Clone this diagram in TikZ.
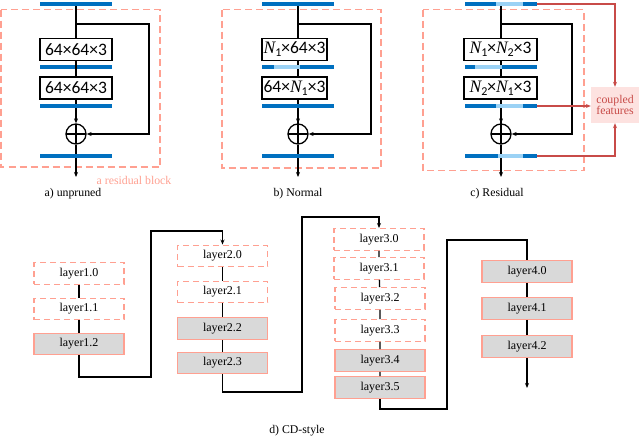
\documentclass[tikz,border=0pt]{standalone}
\usepackage{fontspec}
\setmainfont{Liberation Serif}
\newfontfamily\calfont{Carlito}
\usetikzlibrary{arrows.meta}
\definecolor{dblue}{RGB}{0,112,192}
\definecolor{lblue}{RGB}{155,210,245}
\definecolor{pinkd}{RGB}{255,160,145}
\definecolor{redc}{RGB}{200,75,72}
\definecolor{pinkfill}{RGB}{253,226,224}
\definecolor{grayfill}{RGB}{217,217,217}
\newcommand\Nn[1]{{\rmfamily\itshape N}\raisebox{-0.35ex}{\fontsize{12}{12}\selectfont #1}}
\tikzset{
  bar/.style={fill=dblue, draw=none, minimum height=4, inner sep=0, outer sep=0},
  lseg/.style={fill=lblue, draw=none},
  conv/.style={draw=black, line width=1.6, fill=white, minimum height=22, inner sep=0, outer sep=0, font=\calfont\fontsize{17.5}{17.5}\selectfont},
  plus/.style={circle, draw=black, line width=1.3, minimum size=20, inner sep=0,
    path picture={\draw[line width=1.3] (path picture bounding box.north) -- (path picture bounding box.south) (path picture bounding box.west) -- (path picture bounding box.east);}},
  wire/.style={draw=black, line width=1.3},
  arr/.style={wire, -{Stealth[length=5,width=4]}},
  rarr/.style={draw=redc, line width=1.1, -{Stealth[length=5,width=4]}},
  dbox/.style={draw=pinkd, dashed, dash pattern=on 7 off 4, line width=1.4},
  captxt/.style={font=\fontsize{11.8}{12}\selectfont},
  lay/.style={draw=pinkd, line width=1.4, minimum width=90, minimum height=21.5, inner sep=0, font=\fontsize{12}{12}\selectfont},
  layd/.style={lay, dashed, dash pattern=on 6 off 4},
  layf/.style={lay, fill=grayfill},
}
\begin{document}
\begin{tikzpicture}[x=1pt,y=-1pt]
\useasboundingbox (0,0) rectangle (640,437);
% ---------------- a) unpruned ----------------
\draw[dbox] (1,9.5) rectangle (160,167);
\node[bar, minimum width=72] (a0) at (76,4) {};
\node[conv, minimum width=72] (a1) at (76,49.5) {64×64×3};
\node[bar, minimum width=72] (a2) at (76,67) {};
\node[conv, minimum width=72] (a3) at (76,88) {64×64×3};
\node[bar, minimum width=72] (a4) at (76,106) {};
\node[plus] (ap) at (76,134) {};
\node[bar, minimum width=72] (a5) at (76,156) {};
\coordinate (aend) at (76,177);
\coordinate (as) at (76,24);
\draw[wire] (a0) -- (a1) (a1) -- (a3) (a3) -- (a4);
\draw[arr] (a4) -- (ap);
\draw[wire] (ap) -- (a5);
\draw[arr] (a5) -- (aend);
\draw[arr] (as) -| (149,134) -- (ap.east);
\node[captxt, text=pinkd] (ares) at (134,180.5) {a residual block};
\node[captxt] (acap) at (73,193.5) {a) unpruned};
% ---------------- b) Normal ----------------
\draw[dbox] (222,9.5) rectangle (381,168);
\draw[wire] (298,4) -- (298,124);
\node[bar, minimum width=72] (b0) at (298,4) {};
\node[conv, minimum width=65] (b1) at (294.5,49.5) {\Nn{1}×64×3};
\node[bar, minimum width=72] (b2) at (298,67) {};
\fill[lseg] (274,65) rectangle (300,69);
\node[conv, minimum width=65] (b3) at (294.5,88) {64×\Nn{1}×3};
\node[bar, minimum width=72] (b4) at (298,106) {};
\node[plus] (bp) at (298,134) {};
\node[bar, minimum width=72] (b5) at (298,156) {};
\coordinate (bend) at (298,177);
\coordinate (bs) at (298,24);
\draw[arr] (b4) -- (bp);
\draw[wire] (bp) -- (b5);
\draw[arr] (b5) -- (bend);
\draw[arr] (bs) -| (371,134) -- (bp.east);
\node[captxt] (bcap) at (298,193.5) {b) Normal};
% ---------------- c) Residual ----------------
\draw[dbox] (423,9.5) rectangle (584,170.5);
\draw[wire] (501,4) -- (501,124);
\node[bar, minimum width=72] (c0) at (501,4) {};
\fill[lseg] (496,2) rectangle (523,6);
\node[conv, minimum width=73] (c1) at (500.5,49.5) {\Nn{1}×\Nn{2}×3};
\node[bar, minimum width=72] (c2) at (501,67) {};
\fill[lseg] (475,65) rectangle (502,69);
\node[conv, minimum width=73] (c3) at (500.5,88) {\Nn{2}×\Nn{1}×3};
\node[bar, minimum width=72] (c4) at (501,106) {};
\fill[lseg] (496,104) rectangle (523,108);
\node[plus] (cp) at (501,134) {};
\node[bar, minimum width=72] (c5) at (501,156) {};
\fill[lseg] (498,154) rectangle (523,158);
\coordinate (cend) at (501,177);
\coordinate (cs) at (501,24);
\draw[arr] (c4) -- (cp);
\draw[wire] (cp) -- (c5);
\draw[arr] (c5) -- (cend);
\draw[arr] (cs) -| (572,134) -- (cp.east);
\node[captxt, fill=pinkfill, text=redc, minimum width=48, minimum height=36, inner sep=0, align=center] (cf) at (615,105) {coupled\\[-1pt]features};
\draw[rarr] (c0.east) -| (cf.north);
\draw[rarr] (c4.east) -- (cf.west |- c4.east);
\draw[rarr] (c5.east) -| (cf.south);
\node[captxt] (ccap) at (497,193.5) {c) Residual};
% ---------------- d) CD-style ----------------
\node[layd] (l10) at (79,273.5) {layer1.0};
\node[layd] (l11) at (79,309) {layer1.1};
\node[layf] (l12) at (79,344) {layer1.2};
\node[layd] (l20) at (222.5,256) {layer2.0};
\node[layd] (l21) at (222.5,292) {layer2.1};
\node[layf] (l22) at (222.5,328.5) {layer2.2};
\node[layf] (l23) at (222.5,363) {layer2.3};
\node[layd] (l30) at (379,239.5) {layer3.0};
\node[layd] (l31) at (379,268.5) {layer3.1};
\node[layd] (l32) at (380,298.5) {layer3.2};
\node[layd] (l33) at (380,330.5) {layer3.3};
\node[layf] (l34) at (380,360.5) {layer3.4};
\node[layf] (l35) at (380,387.5) {layer3.5};
\node[layf] (l40) at (527,271.5) {layer4.0};
\node[layf] (l41) at (527,308.5) {layer4.1};
\node[layf] (l42) at (527,346.5) {layer4.2};
\coordinate (dend) at (527,388);
\draw[wire] (l10) -- (l11) (l11) -- (l12);
\draw[wire] (l20) -- (l21) (l21) -- (l22) (l22) -- (l23);
\draw[wire] (l30) -- (l31) (l31) -- (l32) (l32) -- (l33) (l33) -- (l34) (l34) -- (l35);
\draw[wire] (l40) -- (l41) (l41) -- (l42);
\draw[arr] (l12.south) -- (79,377) -- (151,377) -- (151,231) -- (222.5,231) -- (l20.north);
\draw[arr] (l23.south) -- (222.5,392) -- (302,392) -- (302,217) -- (379,217) -- (l30.north);
\draw[wire] (l35.south) -- (380,409) -- (447,409) -- (447,240) -- (527,240) -- (l40.north);
\draw[arr] (l42) -- (dend);
\node[captxt] (dcap) at (297,430.5) {d) CD-style};
\end{tikzpicture}
\end{document}
